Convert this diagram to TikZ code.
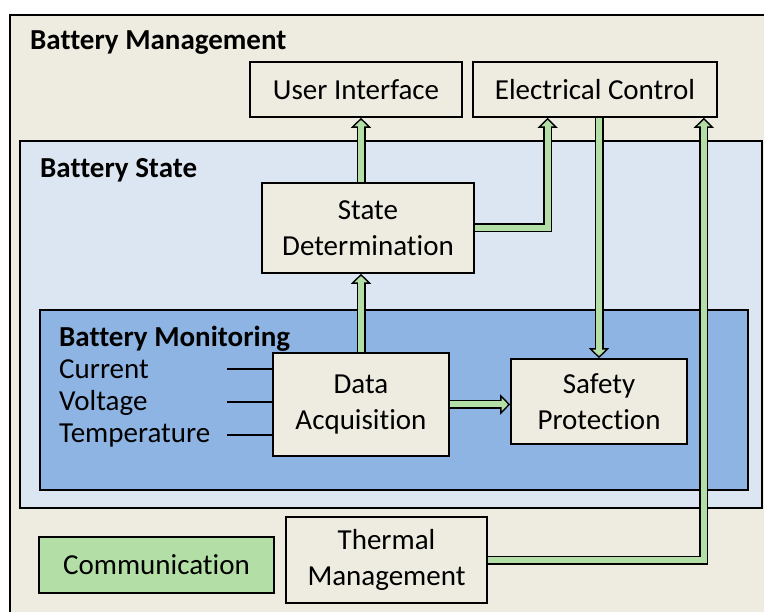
\documentclass[tikz,border=0pt]{standalone}
\usepackage{fontspec}
\setmainfont{Carlito}[Ligatures=NoCommon]
\usetikzlibrary{calc,arrows.meta}
\definecolor{bgtan}{HTML}{EEECE1}
\definecolor{statefill}{HTML}{DCE6F2}
\definecolor{monfill}{HTML}{8EB4E3}
\definecolor{gfill}{HTML}{B3DEA6}
\tikzset{
  blk/.style={draw=black, line width=1.6pt, fill=bgtan, align=center, inner sep=0pt, font=\fontsize{29}{36}\selectfont},
  grp/.style={draw=black, line width=1.6pt},
  ttl/.style={anchor=base west, inner sep=0pt, font=\fontsize{29}{34}\selectfont\bfseries},
  sig/.style={anchor=base west, inner sep=0pt, font=\fontsize{29}{34}\selectfont},
  garrow/.style={line width=9pt, draw=black, -{Triangle[length=10pt,width=20pt,line width=1.4pt,fill=gfill]},
    postaction={draw=gfill, line width=6pt, arrows=-, shorten >=5pt}}
}

\begin{document}
\begin{tikzpicture}[x=1pt,y=-1pt]
			%%%%% FRAMES %%%%%
			
			\useasboundingbox (0,0) rectangle (764,612);
			\clip (0,0) rectangle (764,612);
			\fill[white] (0,0) rectangle (764,612);
			
			\draw[grp, fill=bgtan] (10,15) rectangle (780,630);
			\draw[grp, fill=statefill] (20,141) rectangle (762,508);
			\draw[grp, fill=monfill] (40,310) rectangle (748,490);
			
			\node[ttl] (lblmgmt) at (30,50) {Battery Management};
			\node[ttl] (lblstate) at (40,178) {Battery State};
			\node[ttl] (lblmon) at (59,347) {Battery Monitoring};
			
			%%%%% BLOCKS %%%%%
			
			\node[blk, minimum width=212pt, minimum height=55pt] (ui) at (356,89.5) {User Interface};
			\node[blk, minimum width=244pt, minimum height=55pt] (ec) at (595,89.5) {Electrical Control};
			\node[blk, minimum width=212pt, minimum height=90pt] (sd) at (368,228) {State\\Determination};
			\node[blk, minimum width=176pt, minimum height=103pt] (da) at (361,404.5) {Data\\Acquisition};
			\node[blk, minimum width=176pt, minimum height=85pt] (sp) at (599,401.5) {Safety\\Protection};
			\node[blk, minimum width=201pt, minimum height=86pt] (tm) at (386.5,560) {Thermal\\Management};
			\node[blk, fill=gfill, minimum width=235pt, minimum height=56pt] (comm) at (156.5,565) {Communication};
			
			%%%%% SIGNALS %%%%%
			
			\node[sig] (lblcur) at (59,379) {Current};
			\node[sig] (lblvolt) at (59,411) {Voltage};
			\node[sig] (lbltemp) at (59,443) {Temperature};
			
			\coordinate (cur) at (227,369);
			\coordinate (volt) at (227,402);
			\coordinate (temp) at (227,435);
			\draw[line width=1.2pt] (cur) -- (cur -| da.west);
			\draw[line width=1.2pt] (volt) -- (volt -| da.west);
			\draw[line width=1.2pt] (temp) -- (temp -| da.west);
			
			%%%%% ARROWS %%%%%
			
			\coordinate (ecin) at ($(ec.south west)!0.307!(ec.south east)$);
			\coordinate (ecth) at ($(ec.south west)!0.943!(ec.south east)$);
			
			\draw[garrow] (da.north) -- (sd.south -| da.north);
			\draw[garrow] (sd.north -| da.north) -- (ui.south -| da.north);
			\draw[garrow] (sd.east) -| (ecin);
			\draw[garrow] (ec.south -| sp.north) -- (sp.north);
			\draw[garrow] (da.east) -- (da.east -| sp.west);
			\draw[garrow] (tm.east) -| (ecth);
			
\end{tikzpicture}
\end{document}
